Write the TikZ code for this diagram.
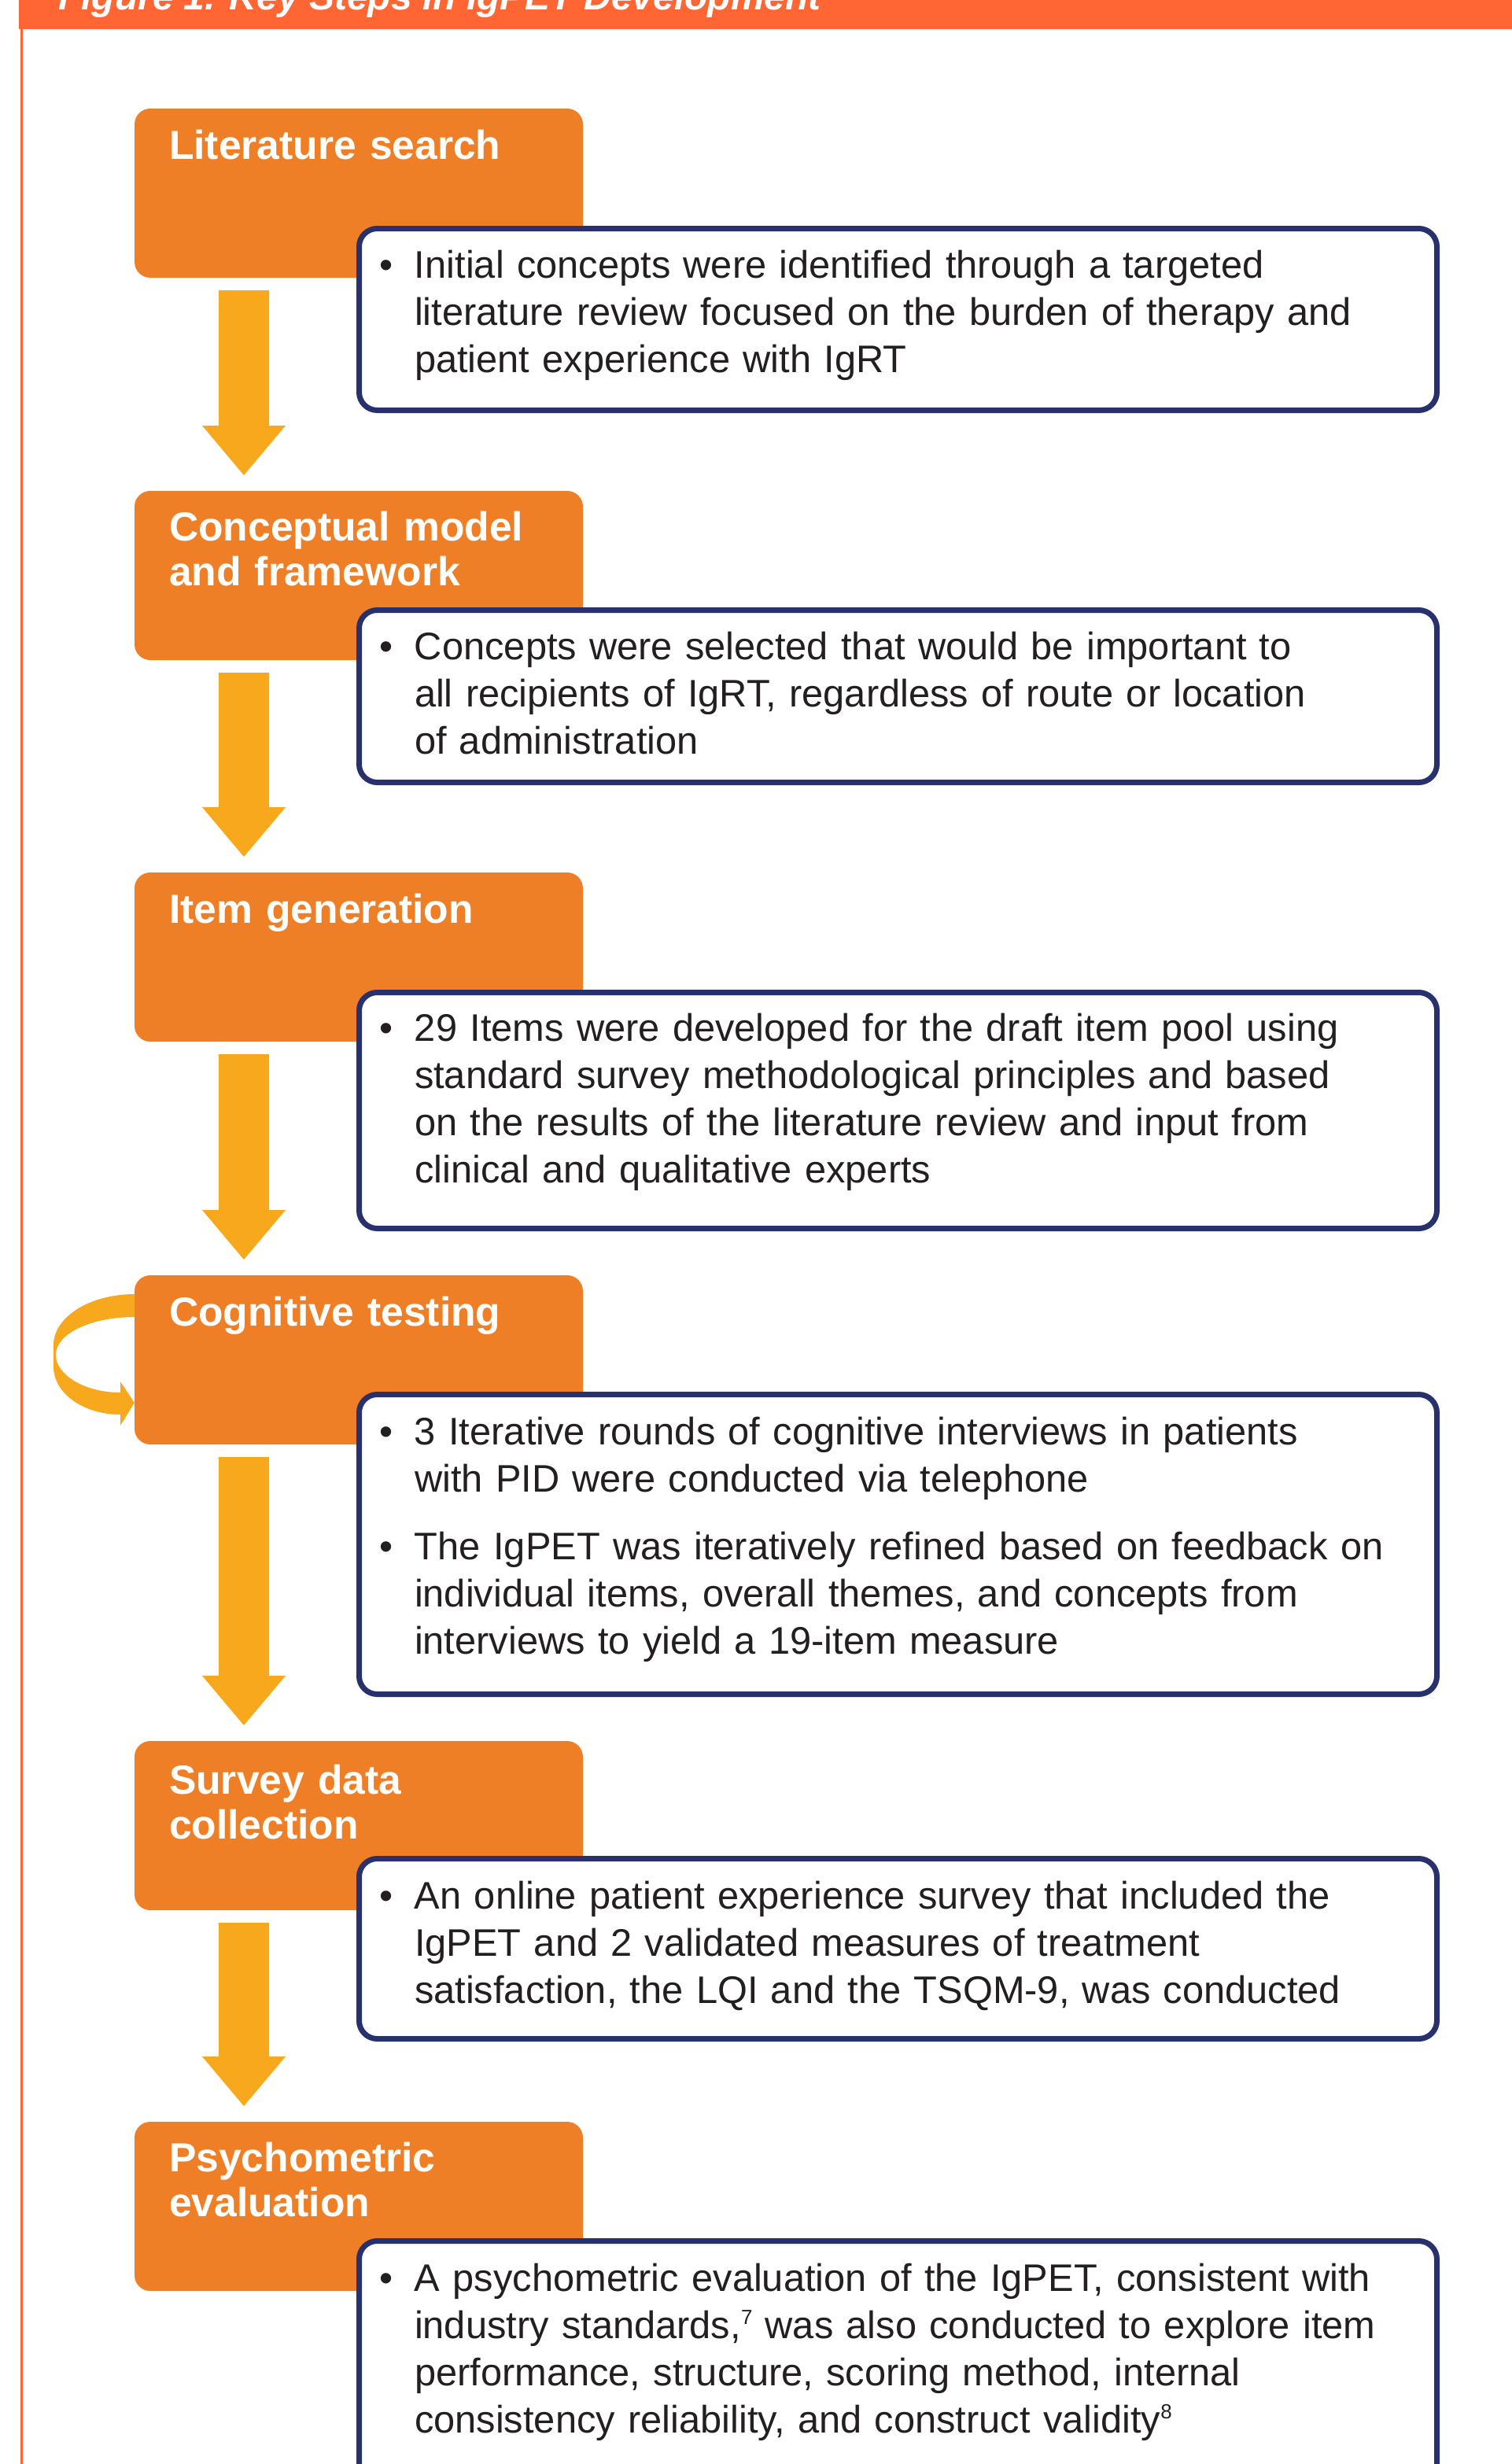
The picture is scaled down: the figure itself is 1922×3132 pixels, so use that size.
\documentclass[tikz,border=0pt]{standalone}
\usepackage{fontspec}
\setmainfont{Liberation Sans}
\usetikzlibrary{calc}
\definecolor{hdr}{HTML}{FF6633}
\definecolor{obox}{HTML}{EE7F26}
\definecolor{arr}{HTML}{F8A81D}
\definecolor{navy}{HTML}{27316E}
\definecolor{ink}{HTML}{231F20}
\tikzset{
  orangebox/.style={fill=obox, draw=none, rounded corners=10pt, minimum width=285pt, minimum height=107.5pt, inner sep=0pt, outer sep=0pt},
  bluebox/.style={draw=navy, line width=3.5pt, fill=white, rounded corners=11.5pt, minimum width=685pt, inner sep=0pt, outer sep=0pt},
  titletext/.style={anchor=base west, inner sep=0pt, outer sep=0pt, text=white, text width=270pt, align=left, font=\fontsize{25.8pt}{28.75pt}\selectfont\bfseries},
  bodytext/.style={anchor=base west, inner sep=0pt, outer sep=0pt, text=ink, text width=660pt, align=left, font=\fontsize{24.4pt}{30pt}\selectfont},
  headtext/.style={anchor=base west, inner sep=0pt, outer sep=0pt, text=white, font=\fontsize{24pt}{28pt}\selectfont\bfseries\itshape},
}
\newcommand\bul{\leavevmode\llap{\makebox[36pt]{•}}}
\newcommand\supnum[1]{\raisebox{9pt}{\fontsize{13pt}{13pt}\selectfont #1}}
\newcommand\flowarrow[2]{%
  \fill[arr] ($(#1.south west)+(107,16)$) -- ($(#1.south west)+(171,16)$)
    -- ($(#2.north west)+(171,-83)$) -- ($(#2.north west)+(192,-83)$)
    -- ($(#2.north west)+(139,-20)$) -- ($(#2.north west)+(86,-83)$)
    -- ($(#2.north west)+(107,-83)$) -- cycle;}
\begin{document}
\begin{tikzpicture}[x=0.5pt, y=-0.5pt]
\useasboundingbox (0,0) rectangle (1922,3132);
\clip (0,0) rectangle (1922,3132);
% header band and left rule
\fill[hdr] (24,-10) rectangle (1922,37);
\node[headtext] (fig) at (74,12) {Figure 1. Key Steps in IgPET Development};
\draw[hdr, line width=1.5pt] (27,37) -- (27,3140);
% orange step boxes
\node[orangebox] (o1) at (456,245.5) {};
\node[orangebox] (o2) at (456,731.5) {};
\node[orangebox] (o3) at (456,1216.5) {};
\node[orangebox] (o4) at (456,1728.5) {};
\node[orangebox] (o5) at (456,2320.5) {};
\node[orangebox] (o6) at (456,2804.5) {};
% loop arrow on cognitive testing
\begin{scope}[shift={(o4.north west)}]
\fill[arr] (0,24) .. controls (-57,24) and (-103,53) .. (-103,89) -- (-103,116)
  .. controls (-103,150) and (-65,177) .. (-18,177) -- (-18,191) -- (0,162)
  -- (-18,135) -- (-18,149) .. controls (-63,149) and (-100,127) .. (-100,101)
  .. controls (-100,74) and (-55,53) .. (0,53) -- cycle;
\end{scope}
% down arrows
\flowarrow{o1}{o2}
\flowarrow{o2}{o3}
\flowarrow{o3}{o4}
\flowarrow{o4}{o5}
\flowarrow{o5}{o6}
% titles
\node[titletext] (t1) at (215,202) {Literature search};
\node[titletext] (t2) at (215,687) {Conceptual model\\and framework};
\node[titletext] (t3) at (215,1173) {Item generation};
\node[titletext] (t4) at (215,1685) {Cognitive testing};
\node[titletext] (t5) at (215,2280) {Survey data\\collection};
\node[titletext] (t6) at (215,2760) {Psychometric\\evaluation};
% blue description boxes
\node[bluebox, minimum height=115.5pt] (b1) at (1141.5,406) {};
\node[bluebox, minimum height=109.5pt] (b2) at (1141.5,885) {};
\node[bluebox, minimum height=150pt] (b3) at (1141.5,1411.5) {};
\node[bluebox, minimum height=190.5pt] (b4) at (1141.5,1963) {};
\node[bluebox, minimum height=114.5pt] (b5) at (1141.5,2477) {};
\node[bluebox, minimum height=200.75pt] (b6) at (1141.5,3049.25) {};
% descriptions
\node[bodytext] (x1) at (527,353) {\bul Initial concepts were identified through a targeted\\literature review focused on the burden of therapy and\\patient experience with IgRT};
\node[bodytext] (x2) at (527,838) {\bul Concepts were selected that would be important to\\all recipients of IgRT, regardless of route or location\\of administration};
\node[bodytext] (x3) at (527,1323) {\bul 29 Items were developed for the draft item pool using\\standard survey methodological principles and based\\on the results of the literature review and input from\\clinical and qualitative experts};
\node[bodytext] (x4) at (527,1836) {\bul 3 Iterative rounds of cognitive interviews in patients\\with PID were conducted via telephone\\[13pt]\bul The IgPET was iteratively refined based on feedback on\\individual items, overall themes, and concepts from\\interviews to yield a 19-item measure};
\node[bodytext] (x5) at (527,2426) {\bul An online patient experience survey that included the\\IgPET and 2 validated measures of treatment\\satisfaction, the LQI and the TSQM-9, was conducted};
\node[bodytext] (x6) at (527,2912) {\bul A psychometric evaluation of the IgPET, consistent with\\industry standards,\supnum{7} was also conducted to explore item\\performance, structure, scoring method, internal\\consistency reliability, and construct validity\supnum{8}};
\end{tikzpicture}
\end{document}
